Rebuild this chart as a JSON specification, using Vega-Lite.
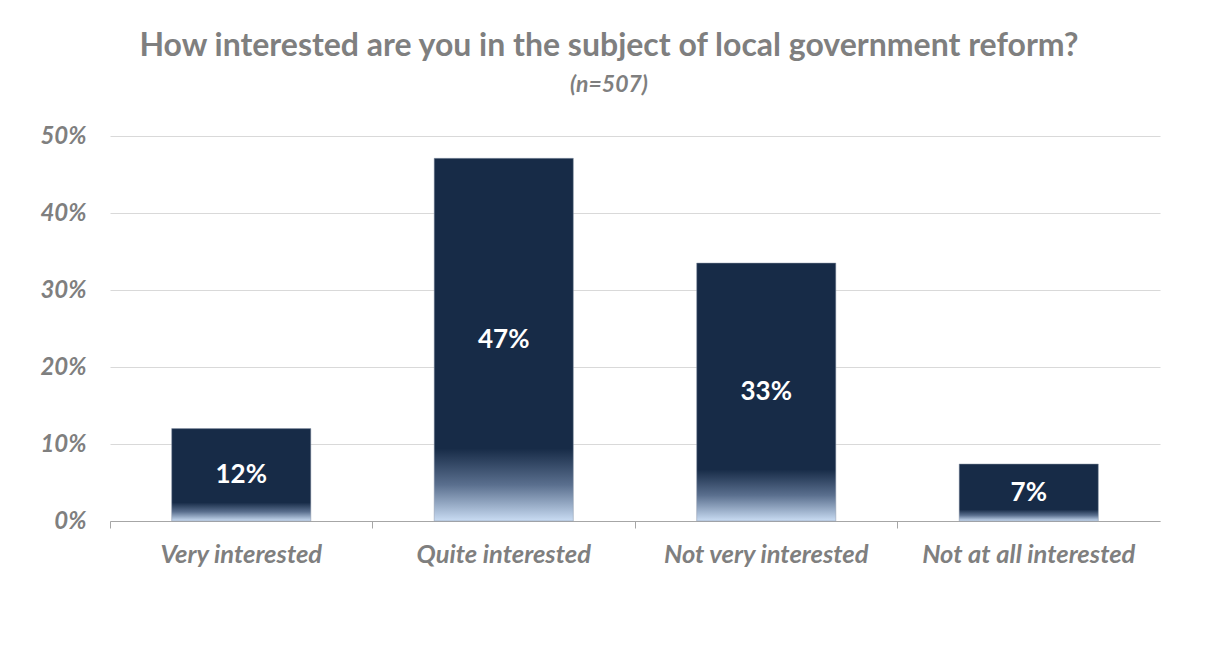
{
  "$schema": "https://vega.github.io/schema/vega-lite/v6.json",
  "width": 1050,
  "height": 385,
  "autosize": {"type": "none"},
  "padding": {"left": 110, "top": 136, "right": 51, "bottom": 147},
  "background": "white",
  "config": {"view": {"stroke": null}},
  "title": {
    "text": "How interested are you in the subject of local government reform?",
    "subtitle": "(n=507)",
    "anchor": "middle",
    "dx": -26,
    "offset": 26,
    "font": "Lato",
    "fontSize": 32,
    "fontWeight": "bold",
    "color": "#7f7f7f",
    "subtitleFont": "Lato",
    "subtitleFontSize": 23,
    "subtitleFontStyle": "italic",
    "subtitleFontWeight": "bold",
    "subtitleColor": "#7f7f7f",
    "subtitlePadding": 11
  },
  "data": {
    "values": [
      {"category": "Very interested", "value": 0.12, "label": "12%"},
      {"category": "Quite interested", "value": 0.471, "label": "47%"},
      {"category": "Not very interested", "value": 0.335, "label": "33%"},
      {"category": "Not at all interested", "value": 0.074, "label": "7%"}
    ]
  },
  "transform": [{"calculate": "datum.value / 2", "as": "mid"}],
  "encoding": {
    "x": {
      "field": "category",
      "type": "nominal",
      "sort": null,
      "scale": {"paddingInner": 0, "paddingOuter": 0},
      "axis": {
        "title": null,
        "labelAngle": 0,
        "labelFont": "Lato",
        "labelFontSize": 25.5,
        "labelFontStyle": "italic",
        "labelFontWeight": "bold",
        "labelColor": "#7f7f7f",
        "labelPadding": 14,
        "labelLimit": 0,
        "labelOverlap": false,
        "bandPosition": 0,
        "tickSize": 7,
        "tickColor": "#a6a6a6",
        "domainColor": "#a6a6a6",
        "grid": false
      }
    }
  },
  "layer": [
    {
      "mark": {
        "type": "bar",
        "width": {"band": 0.53},
        "stroke": "#8a96a8",
        "strokeWidth": 0.5,
        "color": {
          "gradient": "linear",
          "x1": 0, "y1": 0, "x2": 0, "y2": 1,
          "stops": [
            {"offset": 0, "color": "#172b47"},
            {"offset": 0.8, "color": "#172b47"},
            {"offset": 0.9, "color": "#5a6f8e"},
            {"offset": 1, "color": "#c9dcf3"}
          ]
        }
      },
      "encoding": {
        "y": {
          "field": "value",
          "type": "quantitative",
          "scale": {"domain": [0, 0.5]},
          "axis": {
            "title": null,
            "format": ".0%",
            "values": [0, 0.1, 0.2, 0.3, 0.4, 0.5],
            "labelOverlap": false,
            "labelFont": "Lato",
            "labelFontSize": 24,
            "labelFontStyle": "italic",
            "labelFontWeight": "bold",
            "labelColor": "#7f7f7f",
            "labelPadding": 24,
            "ticks": false,
            "domain": false,
            "grid": true,
            "gridColor": "#d9d9d9",
            "gridWidth": 1
          }
        }
      }
    },
    {
      "mark": {
        "type": "text",
        "color": "white",
        "font": "Lato",
        "fontSize": 26,
        "fontWeight": "bold",
        "baseline": "middle"
      },
      "encoding": {
        "y": {"field": "mid", "type": "quantitative"},
        "text": {"field": "label"}
      }
    }
  ]
}
